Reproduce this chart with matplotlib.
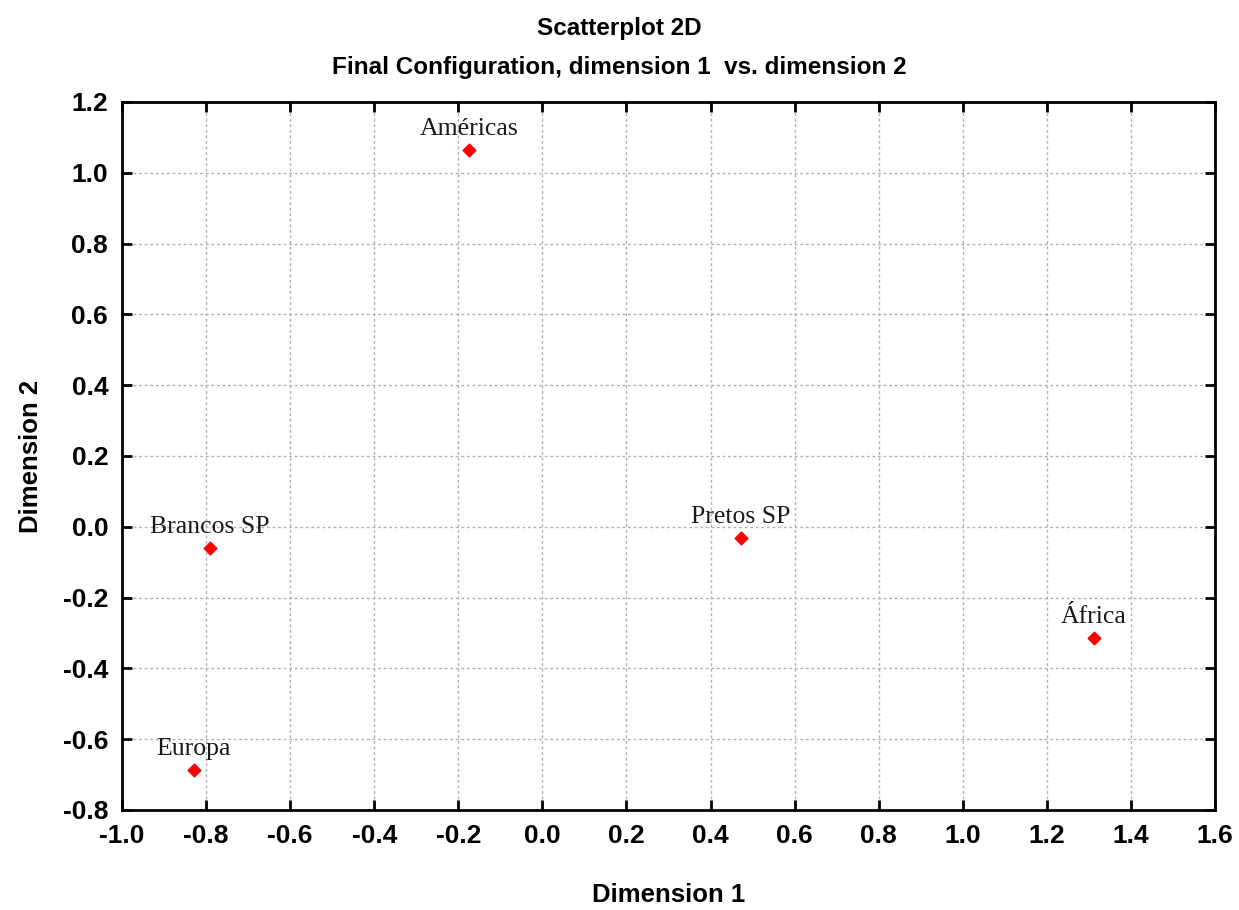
import matplotlib
matplotlib.use("Agg")
import matplotlib.pyplot as plt

# MDS final configuration coordinates
labels = ["Américas", "Brancos SP", "Pretos SP", "África", "Europa"]
dim1 = [-0.175, -0.791, 0.472, 1.312, -0.829]
dim2 = [1.064, -0.060, -0.032, -0.314, -0.687]

xticks = [-1.0, -0.8, -0.6, -0.4, -0.2, 0.0, 0.2, 0.4, 0.6, 0.8, 1.0, 1.2, 1.4, 1.6]
yticks = [-0.8, -0.6, -0.4, -0.2, 0.0, 0.2, 0.4, 0.6, 0.8, 1.0, 1.2]

sans = ["Liberation Sans", "DejaVu Sans"]
serif = ["Liberation Serif", "DejaVu Serif"]

fig = plt.figure(figsize=(12.39, 9.10), dpi=100)
ax = fig.add_axes([0.0985, 0.1099, 0.8821, 0.7781])

ax.scatter(dim1, dim2, marker="D", s=42, color="red", zorder=3)
for x, y, name in zip(dim1, dim2, labels):
    ax.annotate(name, (x, y), xytext=(0, 7), textcoords="offset points",
                ha="center", va="bottom", fontsize=18.5, family=serif,
                color="#1a1a1a")

ax.set_xlim(-1.0, 1.6)
ax.set_ylim(-0.8, 1.2)
ax.set_xticks(xticks)
ax.set_yticks(yticks)
ax.set_xticklabels([f"{t:.1f}" for t in xticks])
ax.set_yticklabels([f"{t:.1f}" for t in yticks])
ax.grid(True, color="#b0b0b0", linestyle=(0, (2, 2)), linewidth=1)
ax.set_axisbelow(True)
ax.tick_params(direction="in", length=7, width=2, top=True, right=True,
               labelsize=19, pad=10)
for lab in ax.get_xticklabels() + ax.get_yticklabels():
    lab.set_fontweight("bold")
    lab.set_family(sans)
for sp in ax.spines.values():
    sp.set_linewidth(2)

ax.set_xlabel("Dimension 1", fontsize=18.5, fontweight="bold", family=sans, labelpad=25)
ax.set_ylabel("Dimension 2", fontsize=18.5, fontweight="bold", family=sans, labelpad=14)

fig.text(0.5, 0.969, "Scatterplot 2D", ha="center", va="center",
         fontsize=17.5, fontweight="bold", family=sans)
fig.text(0.5, 0.926, "Final Configuration, dimension 1  vs. dimension 2",
         ha="center", va="center", fontsize=17.5, fontweight="bold", family=sans)

fig.savefig("out.png", dpi=100)
